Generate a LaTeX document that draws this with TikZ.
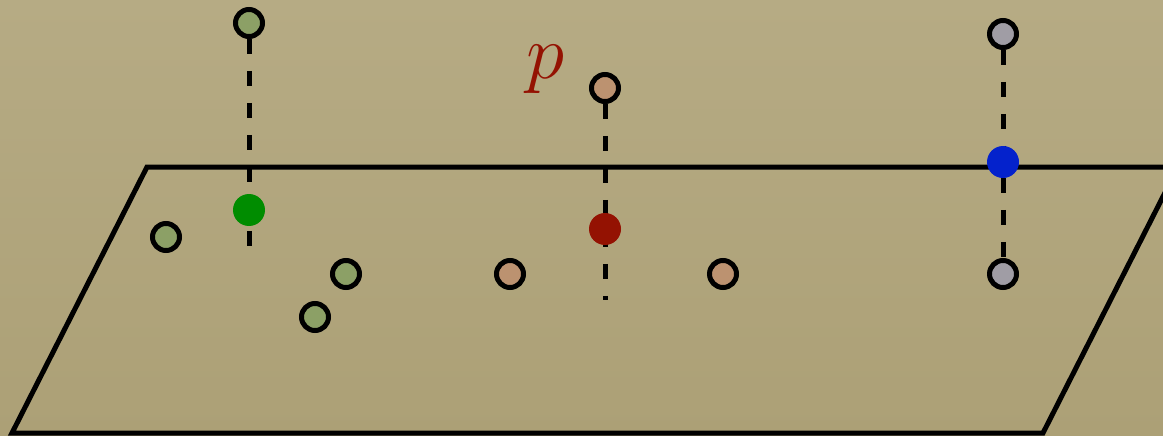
\documentclass[tikz,border=0pt]{standalone}
\usepackage{tikz}
\usepackage{xcolor}
\usepackage{amsmath}

\definecolor{paper}{RGB}{172,160,118}
\definecolor{paperlight}{RGB}{182,171,132}
\definecolor{olivept}{RGB}{140,160,102}
\definecolor{tanpt}{RGB}{188,146,112}
\definecolor{greypt}{RGB}{160,157,165}
\definecolor{greenproj}{RGB}{0,140,0}
\definecolor{redproj}{RGB}{148,18,2}
\definecolor{blueproj}{RGB}{4,34,204}

\begin{document}
\begin{tikzpicture}[x=0.02cm, y=-0.02cm]

\tikzset{
    pt/.style={circle, draw=black, line width=0.1cm, minimum size=0.54cm, inner sep=0pt},
    proj/.style={circle, minimum size=0.64cm, inner sep=0pt},
    drop/.style={line width=0.1cm, dash pattern=on 0.3cm off 0.34cm},
    edge/.style={line width=0.1cm}
}

\shade[top color=paperlight, bottom color=paper] (0,0) rectangle (1163,436);
\useasboundingbox (0,0) rectangle (1163,436);

% the plane
\draw[edge] (1163,167) -- (147,167) -- (12,433) -- (1043,433) -- (1178,167);

% green points
\node[pt, fill=olivept] (gtop) at (249,23) {};
\coordinate (gend) at (249,247);
\draw[drop] (gtop) -- (gend);
\node[proj, fill=greenproj] (gproj) at (249,210) {};
\node[pt, fill=olivept] (g1) at (166,237) {};
\node[pt, fill=olivept] (g2) at (346,274) {};
\node[pt, fill=olivept] (g3) at (315,317) {};

% tan points
\node[pt, fill=tanpt] (ttop) at (605,88) {};
\coordinate (tend) at (605,300);
\draw[drop] (ttop) -- (tend);
\node[proj, fill=redproj] (tproj) at (605,229) {};
\node[pt, fill=tanpt] (t1) at (510,274) {};
\node[pt, fill=tanpt] (t2) at (723,274) {};

\node[anchor=base, inner sep=0pt, text=redproj, font=\Huge, scale=1.77] (plabel) at (546,78) {$p$};

% grey points
\node[pt, fill=greypt] (btop) at (1003,34) {};
\node[pt, fill=greypt] (bbot) at (1003,274) {};
\draw[drop] (btop) -- (bbot);
\node[proj, fill=blueproj] (bproj) at (1003,162) {};

\end{tikzpicture}
\end{document}
